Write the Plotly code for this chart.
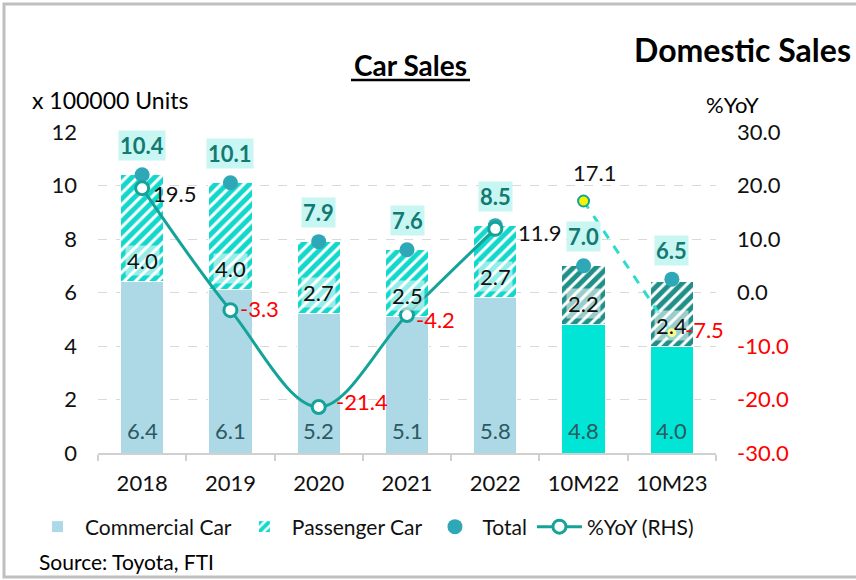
import plotly.graph_objects as go

categories = ["2018", "2019", "2020", "2021", "2022", "10M22", "10M23"]
commercial = [6.4, 6.1, 5.2, 5.1, 5.8, 4.8, 4.0]
passenger = [4.0, 4.0, 2.7, 2.5, 2.7, 2.2, 2.4]
total = [10.4, 10.1, 7.9, 7.6, 8.5, 7.0, 6.5]
yoy_annual_cats = ["2018", "2019", "2020", "2021", "2022"]
yoy_annual = [19.5, -3.3, -21.4, -4.2, 11.9]
yoy_ytd_cats = ["10M22", "10M23"]
yoy_ytd = [17.1, -7.5]
left_ticks = [0, 2, 4, 6, 8, 10, 12]
right_ticks = [-30, -20, -10, 0, 10, 20, 30]

FONT = "Lato"
L, R, T, B = 98, 140, 132, 127
W, H = 856, 580
PW, PH = W - L - R, H - T - B


def px(x):
    return (x - L) / PW


def py(y):
    return (H - B - y) / PH


def idx(c):
    return categories.index(c)


comm_colors = ["#add8e6"] * 5 + ["#00e5d5"] * 2
pass_fg = ["#12d8cc"] * 5 + ["#1f8f88"] * 2

fig = go.Figure()
fig.add_trace(go.Bar(
    x=categories, y=commercial, name="Commercial Car",
    marker=dict(color=comm_colors, line=dict(color="white", width=1)),
    width=0.49, hoverinfo="skip"))
fig.add_trace(go.Bar(
    x=categories, y=passenger, name="Passenger Car",
    marker=dict(color="white", line=dict(color="white", width=1),
                pattern=dict(shape="/", fgcolor=pass_fg, bgcolor="white",
                             size=8, solidity=0.62, fgopacity=1)),
    width=0.49, hoverinfo="skip"))
fig.add_trace(go.Scatter(
    x=categories, y=total, name="Total", mode="markers",
    marker=dict(color="#2ea8b6", size=15), hoverinfo="skip"))
fig.add_trace(go.Scatter(
    x=yoy_annual_cats, y=yoy_annual, name="%YoY (RHS)", yaxis="y2",
    mode="lines+markers",
    line=dict(color="#14a398", width=3, shape="spline", smoothing=1),
    marker=dict(color="white", size=13, line=dict(color="#14a398", width=3)),
    hoverinfo="skip"))
fig.add_trace(go.Scatter(
    x=yoy_ytd_cats, y=yoy_ytd, yaxis="y2", mode="lines+markers",
    showlegend=False,
    line=dict(color="#2ddccc", width=3, dash="dash"),
    marker=dict(color="#f5f500", size=11, line=dict(color="#14a398", width=2)),
    hoverinfo="skip"))

FS = 22
ann = []
for c, v in zip(categories, commercial):
    ann.append(dict(x=idx(c), y=0, yref="y", text=f"{v:.1f}", showarrow=False,
                    yshift=23, font=dict(family=FONT, size=FS, color="#2b5a60")))
for c, b, v in zip(categories, commercial, passenger):
    ann.append(dict(x=idx(c), y=b, yref="y", text=f"{v:.1f}", showarrow=False,
                    yshift=21, bgcolor="rgba(255,255,255,0.55)",
                    font=dict(family=FONT, size=FS, color="#111111")))
for c, v in zip(categories, total):
    ann.append(dict(x=idx(c), y=v, yref="y", text=f"<b>{v:.1f}</b>", showarrow=False,
                    yshift=29, bgcolor="#c8f6f2", borderpad=1,
                    font=dict(family=FONT, size=FS, color="#127a72")))
yoy_shift = [(9, -5), (8, 2), (15, 5), (7, -5), (21, -4)]
for c, v, (dx, dy) in zip(yoy_annual_cats, yoy_annual, yoy_shift):
    ann.append(dict(x=idx(c), y=v, yref="y2", text=f"{v:.1f}", showarrow=False,
                    xanchor="left", xshift=dx, yshift=dy,
                    font=dict(family=FONT, size=FS,
                              color="red" if v < 0 else "#111111")))
ann.append(dict(x=idx(yoy_ytd_cats[0]), y=yoy_ytd[0], yref="y2", text=f"{yoy_ytd[0]:.1f}",
                showarrow=False, xshift=11, yshift=29,
                font=dict(family=FONT, size=FS, color="#111111")))
ann.append(dict(x=idx(yoy_ytd_cats[1]), y=yoy_ytd[1], yref="y2", text=f"{yoy_ytd[1]:.1f}",
                showarrow=False, xanchor="left", xshift=11, yshift=3,
                font=dict(family=FONT, size=FS, color="red")))

ann += [
    dict(xref="paper", yref="paper", x=px(410), y=py(65), yanchor="middle",
         text="<b>Car Sales</b>",
         showarrow=False, font=dict(family=FONT, size=28, color="black")),
    dict(xref="paper", yref="paper", x=px(853), y=py(49), xanchor="right",
         yanchor="middle", text="<b>Domestic Sales</b>", showarrow=False,
         font=dict(family=FONT, size=32, color="black")),
    dict(xref="paper", yref="paper", x=px(30), y=py(100), xanchor="left",
         yanchor="middle", text="x 100000 Units", showarrow=False,
         font=dict(family=FONT, size=23, color="black")),
    dict(xref="paper", yref="paper", x=px(761), y=py(104), yanchor="middle",
         text="%YoY", showarrow=False,
         font=dict(family=FONT, size=FS, color="black")),
    dict(xref="paper", yref="paper", x=px(37), y=py(561), xanchor="left",
         yanchor="middle", text="Source: Toyota, FTI", showarrow=False,
         font=dict(family=FONT, size=21, color="black")),
]

shapes = [
    dict(type="line", xref="paper", yref="paper", x0=px(351), x1=px(470),
         y0=py(80), y1=py(80), line=dict(color="black", width=2.5)),
    dict(type="rect", xref="paper", yref="paper", x0=px(4), x1=px(866),
         y0=py(577), y1=py(4), line=dict(color="#bfbfbf", width=3)),
]

right_text = [f"<span style='color:red'>{v:.1f}</span>" if v < 0 else f"{v:.1f}"
              for v in right_ticks]

fig.update_layout(
    width=W, height=H, margin=dict(l=L, r=R, t=T, b=B),
    paper_bgcolor="white", plot_bgcolor="white",
    barmode="stack", bargap=0.5,
    font=dict(family=FONT, size=FS, color="#111111"),
    xaxis=dict(type="category", categoryorder="array", categoryarray=categories,
               range=[-0.5, len(categories) - 0.5], autorange=False,
               showline=True, linecolor="#d0d0d0", linewidth=2,
               ticks="outside", tickson="boundaries", ticklen=6, tickcolor="#d0d0d0",
               tickwidth=2, showgrid=False, tickangle=0, ticklabelstandoff=10,
               tickfont=dict(size=FS, color="#111111")),
    yaxis=dict(range=[0, 12], autorange=False, tickvals=left_ticks, showgrid=True,
               gridcolor="#d9d9d9", griddash="dash", gridwidth=1,
               zeroline=False, ticks="", ticklabelstandoff=20,
               tickfont=dict(size=FS, color="#111111")),
    yaxis2=dict(range=[-30, 30], autorange=False, overlaying="y", side="right",
                tickvals=right_ticks, ticktext=right_text, showgrid=False,
                zeroline=False, ticks="", ticklabelstandoff=20,
                tickfont=dict(size=FS, color="#111111")),
    legend=dict(orientation="h", x=px(30), y=py(527), xanchor="left",
                yanchor="middle", font=dict(size=21, color="#111111"),
                bgcolor="rgba(0,0,0,0)", traceorder="normal", itemwidth=45),
    annotations=ann, shapes=shapes, hovermode=False,
)

fig.write_html("out.html", config={"displayModeBar": False},
               post_script="document.body.style.margin='0';document.body.style.overflow='hidden';")
